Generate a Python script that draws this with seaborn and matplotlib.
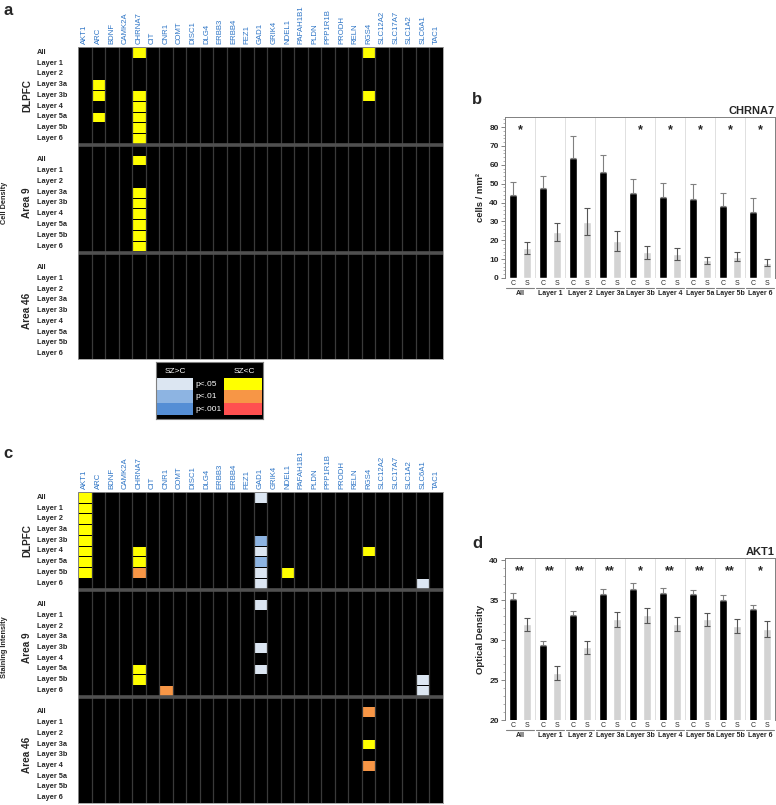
import numpy as np
import pandas as pd
import matplotlib
matplotlib.use('Agg')
import matplotlib.pyplot as plt
import matplotlib.colors as mcolors
import matplotlib.transforms as mtransforms
from matplotlib.patches import Rectangle
from matplotlib.ticker import MultipleLocator
import seaborn as sns

sns.set_style('white')
plt.rcParams['font.family'] = ['Liberation Sans', 'DejaVu Sans']

genes = ['AKT1', 'ARC', 'BDNF', 'CAMK2A', 'CHRNA7', 'CIT', 'CNR1', 'COMT', 'DISC1',
         'DLG4', 'ERBB3', 'ERBB4', 'FEZ1', 'GAD1', 'GRIK4', 'NDEL1', 'PAFAH1B1', 'PLDN',
         'PPP1R1B', 'PRODH', 'RELN', 'RGS4', 'SLC12A2', 'SLC17A7', 'SLC1A2', 'SLC6A1', 'TAC1']
layers = ['All', 'Layer 1', 'Layer 2', 'Layer 3a', 'Layer 3b', 'Layer 4', 'Layer 5a', 'Layer 5b', 'Layer 6']
areas = ['DLPFC', 'Area 9', 'Area 46']

# codes: 1/2/3 = SZ<C p<.05/.01/.001 ; -1/-2/-3 = SZ>C p<.05/.01/.001
density_hits = [
    ('DLPFC', 'All', 'CHRNA7', 1), ('DLPFC', 'Layer 3b', 'CHRNA7', 1), ('DLPFC', 'Layer 4', 'CHRNA7', 1),
    ('DLPFC', 'Layer 5a', 'CHRNA7', 1), ('DLPFC', 'Layer 5b', 'CHRNA7', 1), ('DLPFC', 'Layer 6', 'CHRNA7', 1),
    ('DLPFC', 'Layer 3a', 'ARC', 1), ('DLPFC', 'Layer 3b', 'ARC', 1), ('DLPFC', 'Layer 5a', 'ARC', 1),
    ('DLPFC', 'All', 'RGS4', 1), ('DLPFC', 'Layer 3b', 'RGS4', 1),
    ('Area 9', 'All', 'CHRNA7', 1), ('Area 9', 'Layer 3a', 'CHRNA7', 1), ('Area 9', 'Layer 3b', 'CHRNA7', 1),
    ('Area 9', 'Layer 4', 'CHRNA7', 1), ('Area 9', 'Layer 5a', 'CHRNA7', 1), ('Area 9', 'Layer 5b', 'CHRNA7', 1),
    ('Area 9', 'Layer 6', 'CHRNA7', 1),
]

staining_hits = [
    ('DLPFC', 'All', 'AKT1', 1), ('DLPFC', 'Layer 1', 'AKT1', 1), ('DLPFC', 'Layer 2', 'AKT1', 1),
    ('DLPFC', 'Layer 3a', 'AKT1', 1), ('DLPFC', 'Layer 3b', 'AKT1', 1), ('DLPFC', 'Layer 4', 'AKT1', 1),
    ('DLPFC', 'Layer 5a', 'AKT1', 1), ('DLPFC', 'Layer 5b', 'AKT1', 1),
    ('DLPFC', 'All', 'GAD1', -1), ('DLPFC', 'Layer 3b', 'GAD1', -2), ('DLPFC', 'Layer 4', 'GAD1', -1),
    ('DLPFC', 'Layer 5a', 'GAD1', -2), ('DLPFC', 'Layer 5b', 'GAD1', -1), ('DLPFC', 'Layer 6', 'GAD1', -1),
    ('DLPFC', 'Layer 4', 'CHRNA7', 1), ('DLPFC', 'Layer 5a', 'CHRNA7', 1), ('DLPFC', 'Layer 5b', 'CHRNA7', 2),
    ('DLPFC', 'Layer 5b', 'NDEL1', 1), ('DLPFC', 'Layer 4', 'RGS4', 1), ('DLPFC', 'Layer 6', 'SLC6A1', -1),
    ('Area 9', 'All', 'GAD1', -1), ('Area 9', 'Layer 3b', 'GAD1', -1), ('Area 9', 'Layer 5a', 'GAD1', -1),
    ('Area 9', 'Layer 5a', 'CHRNA7', 1), ('Area 9', 'Layer 5b', 'CHRNA7', 1), ('Area 9', 'Layer 6', 'CNR1', 2),
    ('Area 9', 'Layer 5b', 'SLC6A1', -1), ('Area 9', 'Layer 6', 'SLC6A1', -1),
    ('Area 46', 'All', 'RGS4', 2), ('Area 46', 'Layer 3a', 'RGS4', 1), ('Area 46', 'Layer 4', 'RGS4', 2),
]

groups = layers
# panel b: CHRNA7 cell density
chrna7_c = [44.0, 47.7, 63.7, 56.1, 45.0, 43.1, 41.7, 38.3, 35.2]
chrna7_c_err = [6.6, 6.5, 11.6, 9.3, 7.4, 7.2, 7.9, 6.9, 7.2]
chrna7_s = [15.8, 24.3, 29.9, 19.7, 13.7, 12.7, 9.3, 11.3, 8.1]
chrna7_s_err = [3.2, 4.7, 7.2, 5.4, 3.4, 3.1, 2.0, 2.4, 1.9]
chrna7_stars = ['*', '', '', '', '*', '*', '*', '*', '*']
# panel d: AKT1 optical density
akt1_c = [35.2, 29.4, 33.1, 35.8, 36.4, 35.9, 35.8, 35.0, 33.9]
akt1_c_err = [0.7, 0.5, 0.6, 0.65, 0.75, 0.65, 0.55, 0.65, 0.5]
akt1_s = [32.0, 25.9, 29.1, 32.6, 33.1, 32.0, 32.6, 31.8, 31.4]
akt1_s_err = [0.8, 0.9, 0.85, 0.9, 0.95, 0.85, 0.85, 0.85, 1.0]
akt1_stars = ['**', '**', '**', '**', '*', '**', '**', '**', '*']

sig_colors = ['#558ed5', '#8db4e2', '#dce6f2', '#000000', '#ffff00', '#f79646', '#ff5050']
gene_color = '#2e75c6'

W, H = 776, 805
fig = plt.figure(figsize=(W / 100, H / 100), dpi=100)


def fbox(left, top, right, bottom):
    return [left / W, 1 - bottom / H, (right - left) / W, (bottom - top) / H]


def build_matrix(hits):
    row_labels = []
    row_keys = []
    for k, area in enumerate(areas):
        if k > 0:
            row_labels.append('')
            row_keys.append(None)
        for layer in layers:
            row_labels.append(layer)
            row_keys.append((area, layer))
    mat = pd.DataFrame(0, index=range(len(row_keys)), columns=genes)
    pos = {key: i for i, key in enumerate(row_keys)}
    for area, layer, gene, code in hits:
        mat.loc[pos[(area, layer)], gene] = code
    return mat, row_labels


def heat_panel(box, hits, side_label):
    ax = fig.add_axes(fbox(*box))
    mat, row_labels = build_matrix(hits)
    cmap = mcolors.ListedColormap(sig_colors)
    sns.heatmap(mat, ax=ax, cmap=cmap, vmin=-3.5, vmax=3.5, cbar=False,
                linewidths=0.6, linecolor='black',
                xticklabels=genes, yticklabels=row_labels)
    for j in range(1, len(genes)):
        ax.axvline(j, color='#3a3a3a', lw=0.9)
    ax.axhline(9.15, color='#505050', lw=2.6)
    ax.axhline(19.15, color='#505050', lw=2.6)
    ax.xaxis.tick_top()
    ax.set_xticklabels(genes, rotation=90, color=gene_color, fontsize=5.6)
    ax.tick_params(axis='x', length=0, pad=2)
    ax.set_yticklabels(row_labels, rotation=0, fontsize=5.3, fontweight='bold')
    ax.tick_params(axis='y', length=0, pad=29.5)
    for lab in ax.get_yticklabels():
        lab.set_horizontalalignment('left')
    ax.set_xlabel('')
    ax.set_ylabel('')
    for sp in ax.spines.values():
        sp.set_visible(True)
        sp.set_color('#9a9a9a')
        sp.set_linewidth(0.6)
    tr = mtransforms.blended_transform_factory(fig.transFigure, ax.transData)
    for center, area in zip([4.5, 14.5, 24.5], areas):
        ax.text(27 / W, center, area, transform=tr, rotation=90, ha='center', va='center',
                fontsize=7.2, fontweight='bold')
    ax.text(5 / W, 14.5, side_label, transform=tr, rotation=90, ha='center', va='center',
            fontsize=5.3, fontweight='bold')
    return ax


def legend_panel(box):
    ax = fig.add_axes(fbox(*box))
    ax.set_facecolor('black')
    ax.set_xlim(0, 107)
    ax.set_ylim(57, 0)
    ax.set_xticks([])
    ax.set_yticks([])
    for sp in ax.spines.values():
        sp.set_color('#808080')
        sp.set_linewidth(0.8)
    ax.text(19, 9, 'SZ>C', color='white', ha='center', va='center', fontsize=6)
    ax.text(88, 9, 'SZ<C', color='white', ha='center', va='center', fontsize=6)
    labels = ['p<.05', 'p<.01', 'p<.001']
    for i, lab in enumerate(labels):
        y0 = 16 + i * 12.3
        ax.add_patch(Rectangle((1, y0), 36, 12.3, facecolor=sig_colors[2 - i], edgecolor='none'))
        ax.add_patch(Rectangle((68, y0), 38, 12.3, facecolor=sig_colors[4 + i], edgecolor='none'))
        ax.text(39, y0 + 6.5, lab, color='white', ha='left', va='center', fontsize=6)


def bar_panel(box, c_vals, c_err, s_vals, s_err, stars, ylim, major, minor, star_y, ylabel, title):
    ax = fig.add_axes(fbox(*box))
    df = pd.DataFrame({'group': groups * 2,
                       'dx': ['C'] * len(groups) + ['S'] * len(groups),
                       'value': c_vals + s_vals})
    sns.barplot(data=df, x='group', y='value', hue='dx', order=groups, hue_order=['C', 'S'],
                palette={'C': 'black', 'S': '#d3d3d3'}, saturation=1, width=0.88, gap=0.4,
                errorbar=None, legend=False, ax=ax)
    bars = sorted(ax.patches, key=lambda p: p.get_x())
    xc = [b.get_x() + b.get_width() / 2 for b in bars[0::2]]
    xs = [b.get_x() + b.get_width() / 2 for b in bars[1::2]]
    ax.errorbar(xc, c_vals, yerr=[np.zeros(len(c_err)), c_err], fmt='none', ecolor='#808080',
                elinewidth=0.8, capsize=2, capthick=0.8)
    ax.errorbar(xs, s_vals, yerr=s_err, fmt='none', ecolor='#555555',
                elinewidth=0.8, capsize=2, capthick=0.8)
    for i in range(len(groups) - 1):
        ax.axvline(i + 0.5, color='#dadada', lw=0.6, zorder=0)
    ax.set_xlim(-0.5, len(groups) - 0.5)
    ax.set_ylim(*ylim)
    ax.yaxis.set_major_locator(MultipleLocator(major))
    ax.yaxis.set_minor_locator(MultipleLocator(minor))
    ax.tick_params(axis='y', which='major', left=True, direction='out', length=3, width=0.6,
                   color='#707070', labelsize=6, pad=1.5)
    ax.tick_params(axis='y', which='minor', left=True, direction='out', length=1.5, width=0.5,
                   color='#909090')
    for lab in ax.get_yticklabels():
        lab.set_fontweight('bold')
    ticks = sorted(xc + xs)
    ax.set_xticks(ticks)
    ax.set_xticklabels(['C', 'S'] * len(groups), fontsize=5)
    ax.tick_params(axis='x', length=0, pad=1.5)
    ax.set_xlabel('')
    ax.set_ylabel(ylabel, fontsize=6.8, fontweight='bold', labelpad=3)
    ax.set_title(title, loc='right', fontsize=8, fontweight='bold', pad=2)
    for side in ['top', 'right', 'left']:
        ax.spines[side].set_visible(True)
        ax.spines[side].set_color('#808080')
        ax.spines[side].set_linewidth(0.7)
    ax.spines['bottom'].set_visible(False)
    tr = mtransforms.blended_transform_factory(ax.transData, ax.transAxes)
    for i, g in enumerate(groups):
        ax.plot([i - 0.46, i + 0.46], [-0.062, -0.062], color='#808080', lw=0.8,
                transform=tr, clip_on=False)
        ax.text(i, -0.075, g, transform=tr, ha='center', va='top', fontsize=5, fontweight='bold')
        if stars[i]:
            ax.text(i, star_y, stars[i], ha='center', va='center', fontsize=9, fontweight='bold')
    return ax


heat_panel((78, 47, 443, 359), density_hits, 'Cell Density')
legend_panel((156, 362, 263, 419))
heat_panel((78, 492, 443, 803), staining_hits, 'Staining Intensity')

bar_panel((505, 117, 775, 278), chrna7_c, chrna7_c_err, chrna7_s, chrna7_s_err, chrna7_stars,
          (0, 85.3), 10, 2, 78.5, 'cells / mm²', 'CHRNA7')
bar_panel((505, 558, 775, 720), akt1_c, akt1_c_err, akt1_s, akt1_s_err, akt1_stars,
          (20, 40.3), 5, 1, 38.6, 'Optical Density', 'AKT1')

for x, y, letter in [(3, 3, 'a'), (472, 92, 'b'), (3, 446, 'c'), (472, 536, 'd')]:
    fig.text(x / W, 1 - y / H, letter, fontsize=12, fontweight='bold', ha='left', va='top')

fig.savefig('out.png', dpi=100)
